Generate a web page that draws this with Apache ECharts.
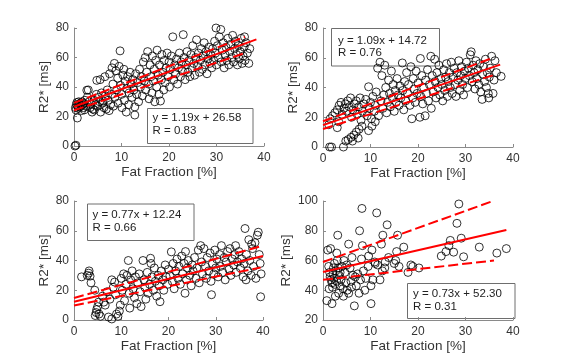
<!DOCTYPE html>
<html><head><meta charset="utf-8">
<script src="https://cdn.jsdelivr.net/npm/echarts@6/dist/echarts.min.js"></script>
<style>html,body{margin:0;padding:0;background:#fff}#c{width:567px;height:364px}</style>
</head><body><div id="c"></div>
<script>
// ---------- data ----------
const xName = 'Fat Fraction [%]';
const yName = 'R2* [ms]';
const xRange = [0, 40, 10];
const yRanges = [[0, 80, 20], [0, 80, 20], [0, 80, 20], [20, 100, 20]];
const boxTexts = [
  'y = 1.19x + 26.58\nR = 0.83',
  'y = 1.09x + 14.72\nR = 0.76',
  'y = 0.77x + 12.24\nR = 0.66',
  'y = 0.73x + 52.30\nR = 0.31'
];

const p1 = [[0.2,0],[0.4,0.5],[0.7,19],[0.3,26],[0.5,28],[0.6,29.5],[0.8,27],[1,30],[1.1,28.5],[1.2,26.5],[1.4,29],[1.5,27.5],[1.7,30],[1.8,28],[2,26],[2.1,29],[2.3,31],[2.5,27],[0.4,24.5],[0.9,25.5],[1.6,24],[2.2,24.5],
[2.7,37.8],[3,38],[2.8,33],[3.2,30],[3.4,26],[3.6,28.5],[3.8,23],[4,25],[4.2,31],[4.3,24.4],[4.5,28],[4.7,35],[4.8,44.5],[5,27],[5.2,33],[5.4,30],[5.5,45],[5.6,23],[5.8,36],[6,29],[6.1,30.5],[6.3,26],[6.5,47],[6.6,34],[6.8,25],[7,38],[7.2,31],[7.4,24],[7.5,49],[7.7,28],[7.9,35],[8,53],[8.2,42],[8.3,27],[8.5,56],[8.6,33],[8.8,51],[9,38],[9.2,46],[9.3,29],[9.5,54],[9.7,64.5],[9.8,41],[10,35],[10.1,26],[10.3,48],[10.5,52],[10.6,31],[10.8,44],[11,23],[11.1,39],[11.3,47],[11.5,28],[11.6,36],[11.8,50],[12,42],[12.2,33],[12.4,45],[12.6,38],[12.8,21],[12.8,26.5],[13,49],[13.2,35],[13.4,43],[13.6,30],[13.8,52],[14,40],[14.2,47],[14.4,34],[14.6,57],[14.8,44],[15,60],[15.1,38],[15.3,50],[15.5,64],[15.7,42],[15.8,32],[16,55],[16.2,47],[16.4,36],[16.5,61],[16.7,44],[16.9,52],[17,30],[17.2,58],[17.4,40],[17.5,65],[17.7,48],[17.9,35],[18,55],[18.2,30.5],[18.4,45],[18.5,62],[18.7,50],[18.9,38],[19,58],[19.2,43],[19.4,53],[19.6,63],[19.8,47],[20,57],[20.1,40],[20.3,52],[20.5,61],[20.8,74],[21,45],[21.2,55],[21.4,49],[21.6,59],[21.8,42],[22,53],[22.2,63],[22.4,47],[22.6,57],[22.8,51],[23,75.5],[23.2,60],[23.4,45],[23.6,55],[23.8,64],[24,50],[24.2,58],[24.4,47],[24.6,62],[24.8,53],[25,68],[25.2,56],[25.4,48],[25.6,60],[25.8,72],[26,54],[26.2,63],[26.4,50],[26.6,58],[26.8,66],[27,52],[27.2,61],[27.4,70],[27.6,55],[27.8,64],[28,49],[28.2,59],[28.4,67],[28.6,56],[28.8,62],[29,53],[29.2,66],[29.4,58],[29.6,71],[29.8,63],[29.9,80],[30,55],[30.2,68],[30.4,60],[30.6,74],[30.9,79],[31,57],[31.2,65],[31.4,70],[31.6,53],[31.8,62],[32,67],[32.2,58],[32.4,73],[32.6,55],[32.8,64],[33,69],[33.2,60],[33.4,75],[33.6,57],[33.8,66],[34,71],[34.2,62],[34.4,55],[34.6,68],[34.8,59],[35,64],[35.2,73],[35.4,56],[35.6,61],[35.8,67],[36,58],[36.2,70],[36.5,63],[37,66],[36.8,56],[35.9,74]];

const p2 = [[1.4,0],[1.8,0],[4.3,0],[4.8,4],[5.3,5],[5.9,6.5],[6.5,8],[7,10],[7.6,12],[8.2,14],[6.2,4],[7.4,6],[9.6,11],[10.3,14],[11,17],[3,13],[3.3,17],[1.2,15],[1.5,19],[2,21],[2.5,23],[3,25],[3.4,28],[3.8,30],[4,22],[4.4,26],[4.7,29],[5,24],[5.2,31],[5.5,27],[5.8,33],[6,20],[6.3,25],[6.6,29],[7,31],[7.2,22],[7.5,27],[7.8,33],[8,18],[8.3,24],[8.6,29],[9,32],[9.3,21],[9.6,40.5],[9.8,26],[10,30],[10.2,19],[10.5,34],[10.8,24],[11,28],[11.2,37],[11.5,53],[11.7,21],[12,57],[12.2,31],[12.4,48],[12.6,26],[12.8,35],[13,55],[13.2,40],[13.4,23],[13.6,30],[13.8,45],[14,36],[14.2,27],[14.4,51],[14.6,33],[14.8,42],[15,24],[15.2,38],[15.4,30],[15.6,46],[15.8,35],[16,28],[16.2,41],[16.4,33],[16.7,56.5],[16.8,38],[17,25],[17.2,44],[17.4,31],[17.6,50],[17.8,36],[18,42],[18.3,28],[18.5,54],[18.7,19],[18.9,33],[19,46],[19.2,39],[19.4,30],[19.6,51],[19.8,36],[20,43],[20.4,20],[20.5,59.5],[20.6,34],[20.8,48],[21,29],[21.2,40],[21.5,21],[21.6,45],[21.8,36],[22,52],[22.2,31],[22.4,42],[22.7,61],[22.8,26],[23,48],[23.2,37],[23.5,59],[23.6,44],[23.8,33],[24,50],[24.2,40],[24.4,55],[24.6,35],[24.8,46],[25,42],[25.2,31],[25.4,52],[25.6,38],[25.8,47],[26,56],[26.2,34],[26.4,44],[26.6,50],[26.8,40],[27,57],[27.2,36],[27.4,47],[27.6,53],[27.8,42],[28,34],[28.2,50],[28.4,45],[28.6,58],[28.8,38],[29,48],[29.2,54],[29.4,42],[29.6,35],[29.8,51],[30,46],[30.2,57],[30.4,40],[30.6,53],[30.8,48],[31,62],[31.2,64],[31.4,44],[31.6,55],[31.8,50],[32,39],[32.2,58],[32.4,46],[32.6,52],[32.8,42],[33,56],[33.2,37],[33.5,32],[33.6,49],[33.8,54],[34,44],[34.2,59],[34.4,40],[34.6,50],[34.8,36],[35,47],[35.2,53],[35.5,61],[35.8,36],[36,45],[36.2,58],[37.5,47.5],[36.5,50],[34.9,33]];

const p3 = [[1.6,29],[2.8,30],[3.1,31.5],[3.2,33],[3.4,29.5],[3.6,25],[4.4,20],[4.5,3],[4.7,5],[4.8,7],[5,9],[5.3,4],[5.6,2.5],[5.2,12],[6,16],[6.3,12],[6.6,10],[7,19],[7.3,2],[7.6,14],[8,0.7],[8,27],[8.3,22],[8.6,25.5],[8.8,17],[9,4],[9.3,2.5],[9.6,6],[9.8,10],[10,28],[10.2,20],[10.5,31],[10.7,13],[11,24],[11.2,30],[11.5,40],[11.7,18],[11.8,8],[12,27],[12.3,33],[12.5,21],[12.8,15],[13,29],[13.3,11],[13.5,25],[13.8,31],[14,19],[14.2,9],[14.6,40],[14.8,27],[15,22],[15.2,14],[15.5,32],[15.7,18],[16,24],[16.2,41.5],[16.3,38],[16.5,29],[16.8,20],[17,35],[17.2,26],[17.5,16],[17.8,30],[18,23],[18.2,12.3],[18.5,33],[18.8,27],[19,20],[19.3,37],[19.5,29],[19.8,24],[20,34],[20.3,30],[20.6,45.8],[20.8,26],[21,38],[21.2,21],[21.5,33],[21.8,41],[22,28],[22.2,36],[22.5,24],[22.8,43],[23,31],[23.3,38],[23.5,18],[23.6,46],[23.8,27],[24,35],[24.2,40],[24.5,30],[24.8,23],[25,37],[25.2,33],[25.5,42],[25.8,28],[26,35],[26.3,47],[26.5,25],[26.8,50],[27,39],[27.2,31],[27.5,48],[27.8,36],[28,28],[28.2,42],[28.5,33],[28.8,45],[29,26],[29.1,17],[29.3,38],[29.6,31],[29.8,47],[30,35],[30.2,41],[30.5,29],[30.8,44],[31,36],[31.2,50],[31.5,32],[31.8,42],[32,27],[32.2,39],[32.5,46],[32.8,34],[33,48],[33.2,30],[33.5,41],[33.8,37],[34,44],[34.3,32],[34.6,39],[34.9,46],[35.2,35],[35.5,41],[35.8,29],[36,38],[36.2,61.5],[36.5,44],[36.8,33],[37,54],[37.2,40],[37.5,30],[37.8,48],[38,36],[38.3,52],[38.5,28],[38.8,57],[39,59],[39.2,44],[39.4,38],[39.5,15.6],[39.6,31],[37.6,51],[36.4,27],[34.2,50]];

const p4 = [[0.8,33],[1.9,31],[1,67],[1.6,68],[2.9,65],[3.1,77],[1.2,56],[1.5,49],[1.7,47],[1.9,45],[2.1,51],[2.3,48],[2.5,44],[2,42],[1.3,41],[2.7,53],[2.9,46],[3.2,55],[3.4,50],[3.6,43],[3.8,47],[2.6,36],[3.3,38],[4.3,36],[4.6,52],[4.8,45],[5.1,40],[5.4,71],[5.4,38],[5.7,55],[6,42],[6.1,62],[6.6,29.5],[6.8,49],[7,43],[7.3,51],[7.6,38],[7.7,80],[7.9,47],[8.1,61],[8.2,95],[8.3,70],[8.5,53],[9,48],[9.5,56],[10.1,31],[10.1,43],[10.3,67],[10.5,47],[10.9,59],[11.3,92],[11.5,57],[12,47],[12.3,71],[12.6,77],[13,55],[13.1,59],[13.5,84],[13.8,62],[15,58],[15.3,60],[15.5,66],[15.7,77],[16,56],[17,69],[17.9,52],[18.5,57],[18.9,56],[20.2,55],[24.9,63],[25.9,66],[26.5,70],[26.8,73.5],[27.5,65.6],[28.2,85],[28.6,98],[29.1,75],[29.6,62.5],[32.9,69],[36.6,65],[38.6,68],
[1.4,52],[2.2,55],[2.4,58],[3,60],[4,56],[4.4,60],[5,57],[6.3,50],[9.6,63],[11,58],[12.5,53],[8.8,40],[5.9,46],[4.2,41],[3.6,52]];

// regression line and band endpoints
const fits  = [[[0,26.58],[38.4,72.3]], [[0,14.72],[37.3,55.4]], [[0,12.24],[40,43.0]], [[0,52.3],[38.6,80.5]]];
const upper = [[[0,29.2],[36,74]], [[0,17.3],[35.8,60]], [[0,14.8],[39.5,49.5]], [[0,59],[35.8,100]]];
const lower = [[[0,24.2],[36,63]], [[0,12.1],[35.8,48.2]], [[0,9.7],[39.5,35.3]], [[0,47],[36,60]]];
const points = [p1, p2, p3, p4];

// ---------- layout ----------
const grids = [
  {left:74, top:28, width:190, height:118},
  {left:323, top:28, width:190, height:119},
  {left:74, top:201, width:189, height:119},
  {left:323, top:201, width:190, height:119}
];
const boxes = [
  {x:147.5, y:108.5, w:105.5, h:35, tx:152.5, ty:112},
  {x:331.5, y:28.5, w:108, h:37.5, tx:338, ty:34.5},
  {x:87.5, y:204, w:106.5, h:36.5, tx:92.5, ty:209},
  {x:407.5, y:283.5, w:107.5, h:35, tx:413, ty:288}
];
const FONT = 'Arial, "Liberation Sans", Helvetica, sans-serif';
const axisCol = '#8a8a8a';
const txtCol = '#333333';

const xAxes = grids.map((g, i) => ({
  type:'value', gridIndex:i, min:xRange[0], max:xRange[1], interval:xRange[2],
  name:xName, nameLocation:'middle', nameGap:19,
  nameTextStyle:{color:txtCol, fontSize:13.5, fontFamily:FONT},
  axisLine:{show:true, onZero:false, lineStyle:{color:axisCol, width:1}},
  axisTick:{show:true, inside:true, length:3, lineStyle:{color:axisCol}},
  axisLabel:{color:txtCol, fontSize:12, fontFamily:FONT, margin:6, showMinLabel:true, showMaxLabel:true},
  splitLine:{show:false}
}));
const yAxes = grids.map((g, i) => ({
  type:'value', gridIndex:i, min:yRanges[i][0], max:yRanges[i][1], interval:yRanges[i][2],
  name:yName, nameLocation:'middle', nameGap: i === 3 ? 30 : 23,
  nameTextStyle:{color:txtCol, fontSize:13.5, fontFamily:FONT},
  axisLine:{show:true, onZero:false, lineStyle:{color:axisCol, width:1}},
  axisTick:{show:true, inside:true, length:3, lineStyle:{color:axisCol}},
  axisLabel:{color:txtCol, fontSize:12, fontFamily:FONT, margin:5, showMinLabel:true, showMaxLabel:true},
  splitLine:{show:false}
}));

const series = [];
points.forEach((pts, i) => {
  series.push({
    type:'scatter', xAxisIndex:i, yAxisIndex:i, data:pts, symbol:'circle', symbolSize:8,
    clip:false, silent:true,
    itemStyle:{color:'rgba(0,0,0,0)', borderColor:'#000', borderWidth:1}, z:2
  });
  const mk = (d, dash) => ({
    type:'line', xAxisIndex:i, yAxisIndex:i, data:d, symbol:'none', showSymbol:false, silent:true,
    lineStyle:{color:'#ff0000', width:2, type: dash ? [10,4] : 'solid'}, z:3
  });
  series.push(mk(fits[i], false), mk(upper[i], true), mk(lower[i], true));
});

const graphic = boxes.map((b, i) => ({
  type:'group', z:10, children:[
    {type:'rect', shape:{x:b.x, y:b.y, width:b.w, height:b.h},
     style:{fill:'#ffffff', stroke:'#6e6e6e', lineWidth:1}},
    {type:'text', x:b.tx, y:b.ty,
     style:{text:boxTexts[i], fill:'#222222', font:'11.5px ' + FONT, lineHeight:12.5, verticalAlign:'top', align:'left'}}
  ]
}));

const chart = echarts.init(document.getElementById('c'), null, {renderer:'canvas'});
chart.setOption({
  animation:false, backgroundColor:'#ffffff',
  grid:grids, xAxis:xAxes, yAxis:yAxes, series:series, graphic:graphic
});
</script>
</body></html>
